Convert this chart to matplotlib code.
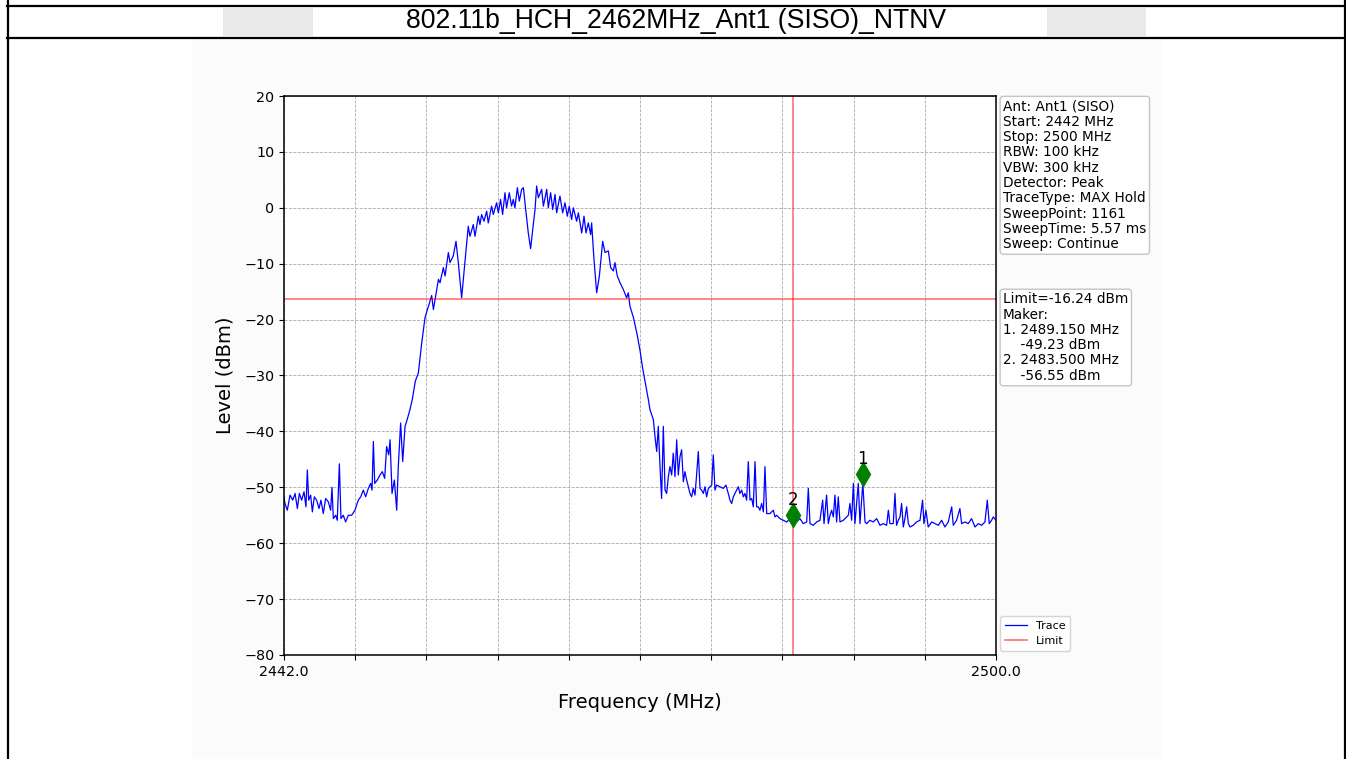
import matplotlib
matplotlib.use("Agg")
import matplotlib.pyplot as plt
import matplotlib.transforms as mtransforms
from matplotlib.patches import Rectangle
from matplotlib.lines import Line2D
import numpy as np

W, H = 1346, 759
DPI = 100

TITLE = "802.11b_HCH_2462MHz_Ant1 (SISO)_NTNV"

START_MHZ = 2442.0
STOP_MHZ = 2500.0
LIMIT_DBM = -16.24
BAND_EDGE_MHZ = 2483.5

# max-hold trace
FREQ_MHZ = [
    2442.00, 2442.08, 2442.27, 2442.49, 2442.71, 2442.90, 2443.09, 2443.25,
    2443.44, 2443.63, 2443.79, 2443.90, 2444.01, 2444.17, 2444.31, 2444.47,
    2444.66, 2444.85, 2445.01, 2445.20, 2445.39, 2445.61, 2445.80, 2445.91,
    2446.02, 2446.21, 2446.34, 2446.51, 2446.64, 2446.83, 2447.02, 2447.24,
    2447.51, 2447.78, 2448.05, 2448.25, 2448.46, 2448.65, 2448.87, 2449.06,
    2449.17, 2449.28, 2449.39, 2449.60, 2449.82, 2450.01, 2450.20, 2450.36,
    2450.53, 2450.64, 2450.80, 2450.99, 2451.18, 2451.31, 2451.50, 2451.67,
    2451.86, 2452.07, 2452.26, 2452.45, 2452.70, 2452.95, 2453.20, 2453.35,
    2453.49, 2454.03, 2454.17, 2454.44, 2454.58, 2454.71, 2454.98, 2455.12,
    2455.39, 2455.52, 2455.79, 2456.01, 2456.20, 2456.47, 2456.74, 2457.01,
    2457.15, 2457.42, 2457.56, 2457.83, 2457.96, 2458.10, 2458.29, 2458.51,
    2458.64, 2458.91, 2459.05, 2459.32, 2459.46, 2459.64, 2459.81, 2460.00,
    2460.13, 2460.35, 2460.54, 2460.68, 2460.81, 2461.01, 2461.17, 2461.36,
    2461.50, 2461.63, 2461.90, 2462.09, 2462.26, 2462.45, 2462.58, 2462.72,
    2462.99, 2463.13, 2463.40, 2463.53, 2463.72, 2463.89, 2464.08, 2464.21,
    2464.48, 2464.70, 2464.89, 2465.08, 2465.24, 2465.43, 2465.57, 2465.84,
    2465.98, 2466.25, 2466.44, 2466.60, 2466.79, 2466.98, 2467.06, 2467.25,
    2467.47, 2467.69, 2467.96, 2468.15, 2468.42, 2468.61, 2468.83, 2468.96,
    2469.15, 2469.37, 2469.64, 2469.91, 2470.05, 2470.18, 2470.46, 2470.75,
    2471.00, 2471.20, 2471.45, 2471.68, 2471.81, 2471.95, 2472.09, 2472.22,
    2472.36, 2472.49, 2472.63, 2472.76, 2472.90, 2473.04, 2473.17, 2473.31,
    2473.44, 2473.58, 2473.71, 2473.85, 2473.99, 2474.12, 2474.26, 2474.39,
    2474.53, 2474.66, 2474.80, 2474.94, 2475.07, 2475.21, 2475.34, 2475.48,
    2475.61, 2475.75, 2475.89, 2476.02, 2476.16, 2476.29, 2476.43, 2476.57,
    2476.70, 2476.84, 2476.97, 2477.11, 2477.24, 2477.52, 2477.79, 2478.00,
    2478.19, 2478.33, 2478.47, 2478.60, 2478.87, 2479.01, 2479.14, 2479.28,
    2479.42, 2479.55, 2479.69, 2479.82, 2479.96, 2480.10, 2480.23, 2480.37,
    2480.50, 2480.64, 2480.77, 2480.91, 2481.05, 2481.18, 2481.32, 2481.59,
    2481.86, 2482.00, 2482.13, 2482.40, 2482.67, 2482.95, 2483.22, 2483.50,
    2483.76, 2484.03, 2484.30, 2484.58, 2484.71, 2484.85, 2485.12, 2485.39,
    2485.66, 2485.88, 2485.99, 2486.20, 2486.34, 2486.48, 2486.61, 2486.75,
    2486.88, 2487.02, 2487.15, 2487.29, 2487.56, 2487.83, 2487.97, 2488.10,
    2488.24, 2488.38, 2488.51, 2488.78, 2488.92, 2489.15, 2489.33, 2489.46,
    2489.73, 2490.00, 2490.28, 2490.55, 2490.82, 2491.09, 2491.23, 2491.36,
    2491.63, 2491.77, 2491.90, 2492.04, 2492.18, 2492.31, 2492.45, 2492.58,
    2492.72, 2492.86, 2492.99, 2493.26, 2493.53, 2493.81, 2494.02, 2494.13,
    2494.29, 2494.48, 2494.76, 2495.03, 2495.30, 2495.57, 2495.84, 2496.11,
    2496.39, 2496.52, 2496.79, 2497.06, 2497.20, 2497.47, 2497.74, 2498.01,
    2498.29, 2498.56, 2498.83, 2499.10, 2499.29, 2499.45, 2499.64, 2499.78,
    2500.00,
]
LEVEL_DBM = [
    -51.7, -52.9, -54.1, -51.4, -52.3, -51.1, -53.8, -51.1,
    -52.3, -50.8, -53.5, -46.9, -52.3, -51.4, -54.4, -51.7,
    -52.3, -53.8, -52.3, -54.7, -52.0, -52.6, -54.1, -50.0,
    -55.6, -55.0, -55.9, -45.8, -55.6, -55.0, -56.2, -55.0,
    -55.0, -54.1, -52.3, -51.7, -50.5, -51.7, -50.2, -49.3,
    -50.5, -41.8, -49.3, -48.7, -47.8, -47.2, -48.4, -42.7,
    -44.2, -41.5, -51.1, -48.7, -54.1, -46.3, -38.5, -45.4,
    -39.1, -37.6, -36.1, -34.3, -31.0, -29.5, -24.5, -22.0,
    -19.6, -15.7, -18.2, -14.6, -12.8, -13.4, -10.7, -12.2,
    -8.0, -9.8, -8.6, -6.0, -9.8, -16.1, -9.8, -3.3,
    -5.1, -3.0, -5.1, -1.5, -3.0, -1.2, -2.4, -0.6,
    -2.7, 0.3, -1.2, 0.9, -0.9, 1.5, -1.2, 2.7,
    0.0, 2.7, 0.3, 1.5, 0.0, 3.6, 1.2, 3.3,
    3.6, 0.9, -4.5, -7.3, -3.9, -0.3, 3.9, 1.8,
    3.3, 0.3, 3.3, 0.0, 2.7, -0.3, 2.4, -0.9,
    2.1, -0.9, 0.9, -1.5, 0.3, -2.1, 0.0, -2.4,
    -0.9, -4.5, -1.5, -4.5, -2.7, -4.8, -2.7, -9.2,
    -15.2, -12.2, -6.0, -8.0, -7.7, -10.7, -11.3, -9.8,
    -12.2, -13.4, -14.6, -16.1, -15.2, -17.6, -19.6, -22.5,
    -25.5, -28.5, -31.5, -34.3, -36.1, -37.0, -37.9, -40.9,
    -43.6, -39.1, -46.3, -52.0, -39.1, -50.5, -51.1, -48.1,
    -46.3, -47.8, -43.9, -48.1, -41.5, -47.8, -44.5, -43.3,
    -49.0, -47.2, -48.7, -49.9, -51.1, -51.7, -50.2, -51.4,
    -47.8, -43.6, -50.2, -50.5, -51.1, -49.9, -51.7, -50.2,
    -49.9, -49.6, -44.2, -50.5, -49.6, -49.9, -50.2, -49.6,
    -51.1, -52.3, -52.9, -51.7, -50.5, -49.9, -51.1, -50.5,
    -51.7, -51.1, -52.3, -45.4, -52.3, -52.0, -53.5, -45.4,
    -53.5, -53.5, -54.1, -52.9, -54.4, -46.3, -54.7, -54.7,
    -54.1, -55.3, -55.0, -55.6, -55.9, -56.2, -55.6, -56.55,
    -56.2, -55.6, -56.5, -56.2, -50.2, -56.5, -56.8, -56.2,
    -55.9, -52.3, -56.5, -51.4, -56.5, -55.0, -54.1, -55.3,
    -51.4, -56.2, -51.7, -56.2, -55.9, -55.3, -55.0, -52.9,
    -55.9, -49.3, -56.5, -49.3, -56.5, -49.23, -56.2, -56.5,
    -55.9, -56.2, -55.6, -56.8, -56.5, -56.8, -54.1, -56.5,
    -56.5, -51.1, -56.8, -55.9, -55.3, -52.9, -57.1, -55.6,
    -53.5, -56.5, -57.1, -56.8, -56.2, -55.9, -52.3, -56.5,
    -54.1, -57.1, -56.2, -56.5, -56.8, -55.9, -57.1, -56.2,
    -53.5, -56.8, -55.9, -53.8, -56.5, -56.2, -56.5, -55.6,
    -57.1, -56.5, -56.8, -56.2, -52.3, -56.5, -55.9, -55.3,
    -55.9,
]

MARKER_IDS = ["1", "2"]
MARKER_FREQ = [2489.150, 2483.500]
MARKER_LEVEL = [-49.23, -56.55]

SETTINGS = [
    "Ant: Ant1 (SISO)",
    "Start: 2442 MHz",
    "Stop: 2500 MHz",
    "RBW: 100 kHz",
    "VBW: 300 kHz",
    "Detector: Peak",
    "TraceType: MAX Hold",
    "SweepPoint: 1161",
    "SweepTime: 5.57 ms",
    "Sweep: Continue",
]


def fx(px):
    return px / W


def fy(py):
    return 1 - py / H


fig = plt.figure(figsize=(W / DPI, H / DPI), dpi=DPI)
fig.patch.set_facecolor("white")

# report table: outer frame and title row
border = dict(color="black", lw=1.6, transform=fig.transFigure, zorder=5)
fig.add_artist(Line2D([fx(7.5), fx(7.5)], [0, 1], **border))
fig.add_artist(Line2D([fx(1344.5), fx(1344.5)], [0, 1], **border))
fig.add_artist(Line2D([fx(7), fx(1345)], [fy(5.5), fy(5.5)], **border))
fig.add_artist(Line2D([fx(7), fx(1345)], [fy(38), fy(38)], **border))

for x0, x1 in [(223, 313), (1047, 1146)]:
    fig.add_artist(Rectangle((fx(x0), fy(36)), fx(x1 - x0), (36 - 8) / H,
                             transform=fig.transFigure, fc="#e9e9e9",
                             ec="none", zorder=0))

fig.text(fx(676), fy(21), TITLE, ha="center", va="center",
         fontsize=19.2, family="Liberation Sans", zorder=6)

# embedded plot canvas
fig.add_artist(Rectangle((fx(192), 0), fx(1161 - 192), (H - 39) / H,
                         transform=fig.transFigure, fc="#fbfbfb",
                         ec="none", zorder=0))

ax = fig.add_axes([fx(284), fy(655), fx(712), 559 / H])
ax.set_facecolor("white")
ax.set_zorder(2)

freq = np.array(FREQ_MHZ)
level = np.array(LEVEL_DBM)

ax.plot(freq, level, color="blue", lw=0.9, label="Trace")
ax.axhline(LIMIT_DBM, color="red", lw=1.1, alpha=0.6, label="Limit")
ax.axvline(BAND_EDGE_MHZ, color="red", lw=1.1, alpha=0.6)

# marker diamonds sit a little above the trace point, labels above that
mk_tr = mtransforms.offset_copy(ax.transData, fig=fig, y=9, units="dots")
lbl_tr = mtransforms.offset_copy(ax.transData, fig=fig, y=24, units="dots")
for mid, f, lv in zip(MARKER_IDS, MARKER_FREQ, MARKER_LEVEL):
    ax.plot([f], [lv], marker="d", color="green", markersize=12,
            linestyle="none", transform=mk_tr, zorder=4)
    ax.text(f, lv, mid, transform=lbl_tr, ha="center", va="center",
            fontsize=12, zorder=4)

ax.set_xlim(START_MHZ, STOP_MHZ)
ax.set_ylim(-80, 20)
xt = np.linspace(START_MHZ, STOP_MHZ, 11)
ax.set_xticks(xt)
ax.set_xticklabels([f"{v:.1f}" if i in (0, len(xt) - 1) else ""
                    for i, v in enumerate(xt)])
ax.set_yticks(np.arange(-80, 21, 10))
ax.tick_params(labelsize=10.3)
ax.grid(True, linestyle="--", color="#aaaaaa", lw=0.6)
for sp in ax.spines.values():
    sp.set_linewidth(1.1)

ax.set_xlabel("Frequency (MHz)", fontsize=14, labelpad=10)
ax.set_ylabel("Level (dBm)", fontsize=14, labelpad=7)

box = dict(boxstyle="round,pad=0.22", fc="white", ec="#c4c4c4", lw=1)
ax.text(1.010, 0.994, "\n".join(SETTINGS), transform=ax.transAxes,
        ha="left", va="top", fontsize=9.8, linespacing=1.12, bbox=box)

marker_lines = [f"Limit={LIMIT_DBM:.2f} dBm", "Maker:"]
for mid, f, lv in zip(MARKER_IDS, MARKER_FREQ, MARKER_LEVEL):
    marker_lines.append(f"{mid}. {f:.3f} MHz")
    marker_lines.append(f"    {lv:.2f} dBm")
ax.text(1.010, 0.649, "\n".join(marker_lines), transform=ax.transAxes,
        ha="left", va="top", fontsize=9.8, linespacing=1.12, bbox=box)

ax.legend(loc="lower left", bbox_to_anchor=(1.0, 0.0), fontsize=8,
          borderaxespad=0.4, framealpha=0.8)

fig.savefig("out.png", dpi=DPI)
